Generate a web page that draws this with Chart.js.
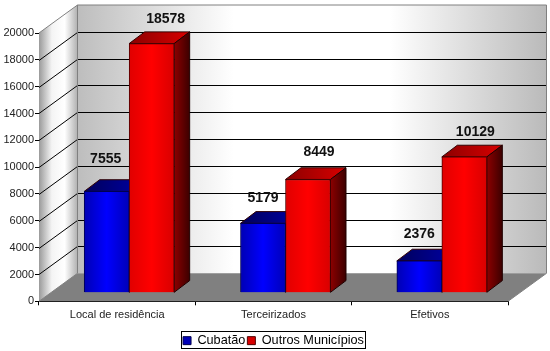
<!DOCTYPE html>
<html>
<head>
<meta charset="utf-8">
<style>
  body { margin: 0; background: #fff; }
  canvas { display: block; }
</style>
<script src="https://cdn.jsdelivr.net/npm/chart.js@4/dist/chart.umd.min.js"></script>
</head>
<body>
<canvas id="grafico" width="550" height="351"></canvas>
<script>
const categorias = ['Local de residência', 'Terceirizados', 'Efetivos'];
const cubatao = [7555, 5179, 2376];
const outros = [18578, 8449, 10129];
const nomesSeries = ['Cubatão', 'Outros Municípios'];
const yMax = 20000;
const yStep = 2000;

// profundidade do "3D"
const paredeDx = 38.5, paredeDy = 28;
const barraX = 12, barraY = -8.5;
const fundoDx = 15.5, fundoDy = 11.7;
const larguraBarra = 45;

// ajuste fino dos rótulos, por série e categoria
const ajusteRotulos = [
  [[-1, -32], [0, -25], [0, -27]],
  [[14, -24], [11, -27], [11, -25]]
];

const fonte = '"Liberation Sans", Arial, sans-serif';

function gradiente(ctx, x0, x1, cores) {
  const g = ctx.createLinearGradient(x0, 0, x1, 0);
  cores.forEach((c, i) => g.addColorStop(cores.length > 1 ? i / (cores.length - 1) : 0, c));
  return g;
}

// cor da face frontal, com o brilho no meio da barra
function corFrente(lado, cores) {
  return function(c) {
    const meio = c.chart.scales.x.getPixelForValue(c.dataIndex);
    const x0 = lado === 0 ? meio - larguraBarra : meio;
    return gradiente(c.chart.ctx, x0, x0 + larguraBarra, cores);
  };
}

function poligono(ctx, pts, fill, stroke) {
  ctx.beginPath();
  pts.forEach((p, i) => i ? ctx.lineTo(p[0], p[1]) : ctx.moveTo(p[0], p[1]));
  ctx.closePath();
  ctx.fillStyle = fill;
  ctx.fill();
  if (stroke) {
    ctx.strokeStyle = stroke;
    ctx.lineWidth = 1;
    ctx.stroke();
  }
}

const cenario3d = {
  id: 'cenario3d',
  beforeDatasetsDraw(chart) {
    const ctx = chart.ctx;
    const a = chart.chartArea;
    const y = chart.scales.y;
    const yTop = y.getPixelForValue(yMax);
    const y0 = y.getPixelForValue(0);
    ctx.save();

    // parede esquerda
    poligono(ctx, [[a.left, yTop], [a.left + paredeDx, yTop - paredeDy], [a.left + paredeDx, y0 - paredeDy], [a.left, y0]],
      gradiente(ctx, a.left, a.left + paredeDx, ['#9a9a9a', '#f4f4f4', '#ffffff', '#b0b0b0']));
    // parede do fundo
    poligono(ctx, [[a.left + paredeDx, yTop - paredeDy], [a.right + paredeDx, yTop - paredeDy], [a.right + paredeDx, y0 - paredeDy], [a.left + paredeDx, y0 - paredeDy]],
      gradiente(ctx, a.left + paredeDx, a.right + paredeDx, ['#bdbdbd', '#ffffff', '#ffffff', '#bababa']));
    // chão
    poligono(ctx, [[a.left, y0], [a.right, y0], [a.right + paredeDx, y0 - paredeDy], [a.left + paredeDx, y0 - paredeDy]], '#808080');

    // linhas de grade
    ctx.strokeStyle = '#000';
    ctx.lineWidth = 1;
    y.ticks.forEach(t => {
      if (t.value === 0 || t.value === yMax) return;
      const py = Math.round(y.getPixelForValue(t.value)) + 0.5;
      ctx.beginPath();
      ctx.moveTo(a.left, py);
      ctx.lineTo(a.left + paredeDx, py - paredeDy);
      ctx.lineTo(a.right + paredeDx, py - paredeDy);
      ctx.stroke();
    });

    // contornos cinza das paredes
    ctx.strokeStyle = '#808080';
    ctx.beginPath();
    ctx.moveTo(a.left, yTop);
    ctx.lineTo(a.left + paredeDx, yTop - paredeDy);
    ctx.lineTo(a.right + paredeDx, yTop - paredeDy);
    ctx.lineTo(a.right + paredeDx, y0 - paredeDy);
    ctx.lineTo(a.right, y0);
    ctx.moveTo(a.left + paredeDx, yTop - paredeDy);
    ctx.lineTo(a.left + paredeDx, y0 - paredeDy);
    ctx.lineTo(a.left, y0);
    ctx.stroke();

    // topo e lateral das barras
    const coresTopo = [['#00005a', '#0000a8'], ['#8c0000', '#d80000']];
    const coresLado = [['#000080', '#000040'], ['#8c0000', '#3c0000']];
    chart.data.datasets.forEach((ds, i) => {
      chart.getDatasetMeta(i).data.forEach(b => {
        const esq = b.x - b.width / 2 + barraX, dir = b.x + b.width / 2 + barraX;
        const topo = b.y + barraY, base = b.base + barraY;
        poligono(ctx, [[esq, topo], [dir, topo], [dir + fundoDx, topo - fundoDy], [esq + fundoDx, topo - fundoDy]],
          gradiente(ctx, esq, dir + fundoDx, coresTopo[i]), '#300000');
        poligono(ctx, [[dir, topo], [dir + fundoDx, topo - fundoDy], [dir + fundoDx, base - fundoDy], [dir, base]],
          gradiente(ctx, dir, dir + fundoDx, coresLado[i]), '#200000');
      });
    });
    ctx.restore();
  },
  // a face frontal fica um pouco para dentro do chão
  beforeDatasetDraw(chart) {
    chart.ctx.save();
    chart.ctx.translate(barraX, barraY);
  },
  afterDatasetDraw(chart) {
    chart.ctx.restore();
  },
  afterDatasetsDraw(chart) {
    const ctx = chart.ctx;
    ctx.save();
    ctx.font = 'bold 14px ' + fonte;
    ctx.fillStyle = '#111';
    ctx.textAlign = 'center';
    ctx.textBaseline = 'middle';
    chart.data.datasets.forEach((ds, i) => {
      chart.getDatasetMeta(i).data.forEach((b, j) => {
        const aj = ajusteRotulos[i][j];
        ctx.fillText(ds.data[j], b.x + barraX + aj[0], b.y + barraY + aj[1]);
      });
    });
    ctx.restore();
  },
  afterDraw(chart) {
    // moldura da legenda
    const ctx = chart.ctx;
    ctx.save();
    ctx.strokeStyle = '#000';
    ctx.lineWidth = 1;
    ctx.strokeRect(181.5, 331.5, 184, 17);
    ctx.restore();
  }
};

new Chart(document.getElementById('grafico'), {
  type: 'bar',
  data: {
    labels: categorias,
    datasets: [
      {
        label: nomesSeries[0],
        data: cubatao,
        barThickness: larguraBarra,
        backgroundColor: corFrente(0, ['#0000b4', '#0000ff', '#0000b8']),
        borderColor: '#000050',
        borderWidth: 1
      },
      {
        label: nomesSeries[1],
        data: outros,
        barThickness: larguraBarra,
        backgroundColor: corFrente(1, ['#e00000', '#ff0000', '#d80000']),
        borderColor: '#500000',
        borderWidth: 1
      }
    ]
  },
  options: {
    responsive: false,
    animation: false,
    layout: { padding: { top: 33, right: 42, bottom: -6 } },
    scales: {
      x: {
        afterFit: s => { s.height = 31; },
        grid: { drawOnChartArea: false, color: '#000', tickLength: 4 },
        border: { color: '#000' },
        ticks: { color: '#222', font: { family: fonte, size: 11 }, padding: 3, maxRotation: 0 }
      },
      y: {
        min: 0,
        max: yMax,
        afterFit: s => { s.width = 39; },
        grid: { drawOnChartArea: false, color: '#000', tickLength: 4 },
        border: { color: '#000' },
        ticks: { stepSize: yStep, color: '#222', font: { family: fonte, size: 11 }, padding: 1, callback: v => String(v) }
      }
    },
    plugins: {
      title: { display: false },
      tooltip: { enabled: false },
      legend: {
        position: 'bottom',
        fullSize: false,
        labels: {
          boxWidth: 8,
          boxHeight: 8,
          padding: 2,
          color: '#000',
          font: { family: fonte, size: 12.7 }
        }
      }
    }
  },
  plugins: [cenario3d]
});
</script>
</body>
</html>
